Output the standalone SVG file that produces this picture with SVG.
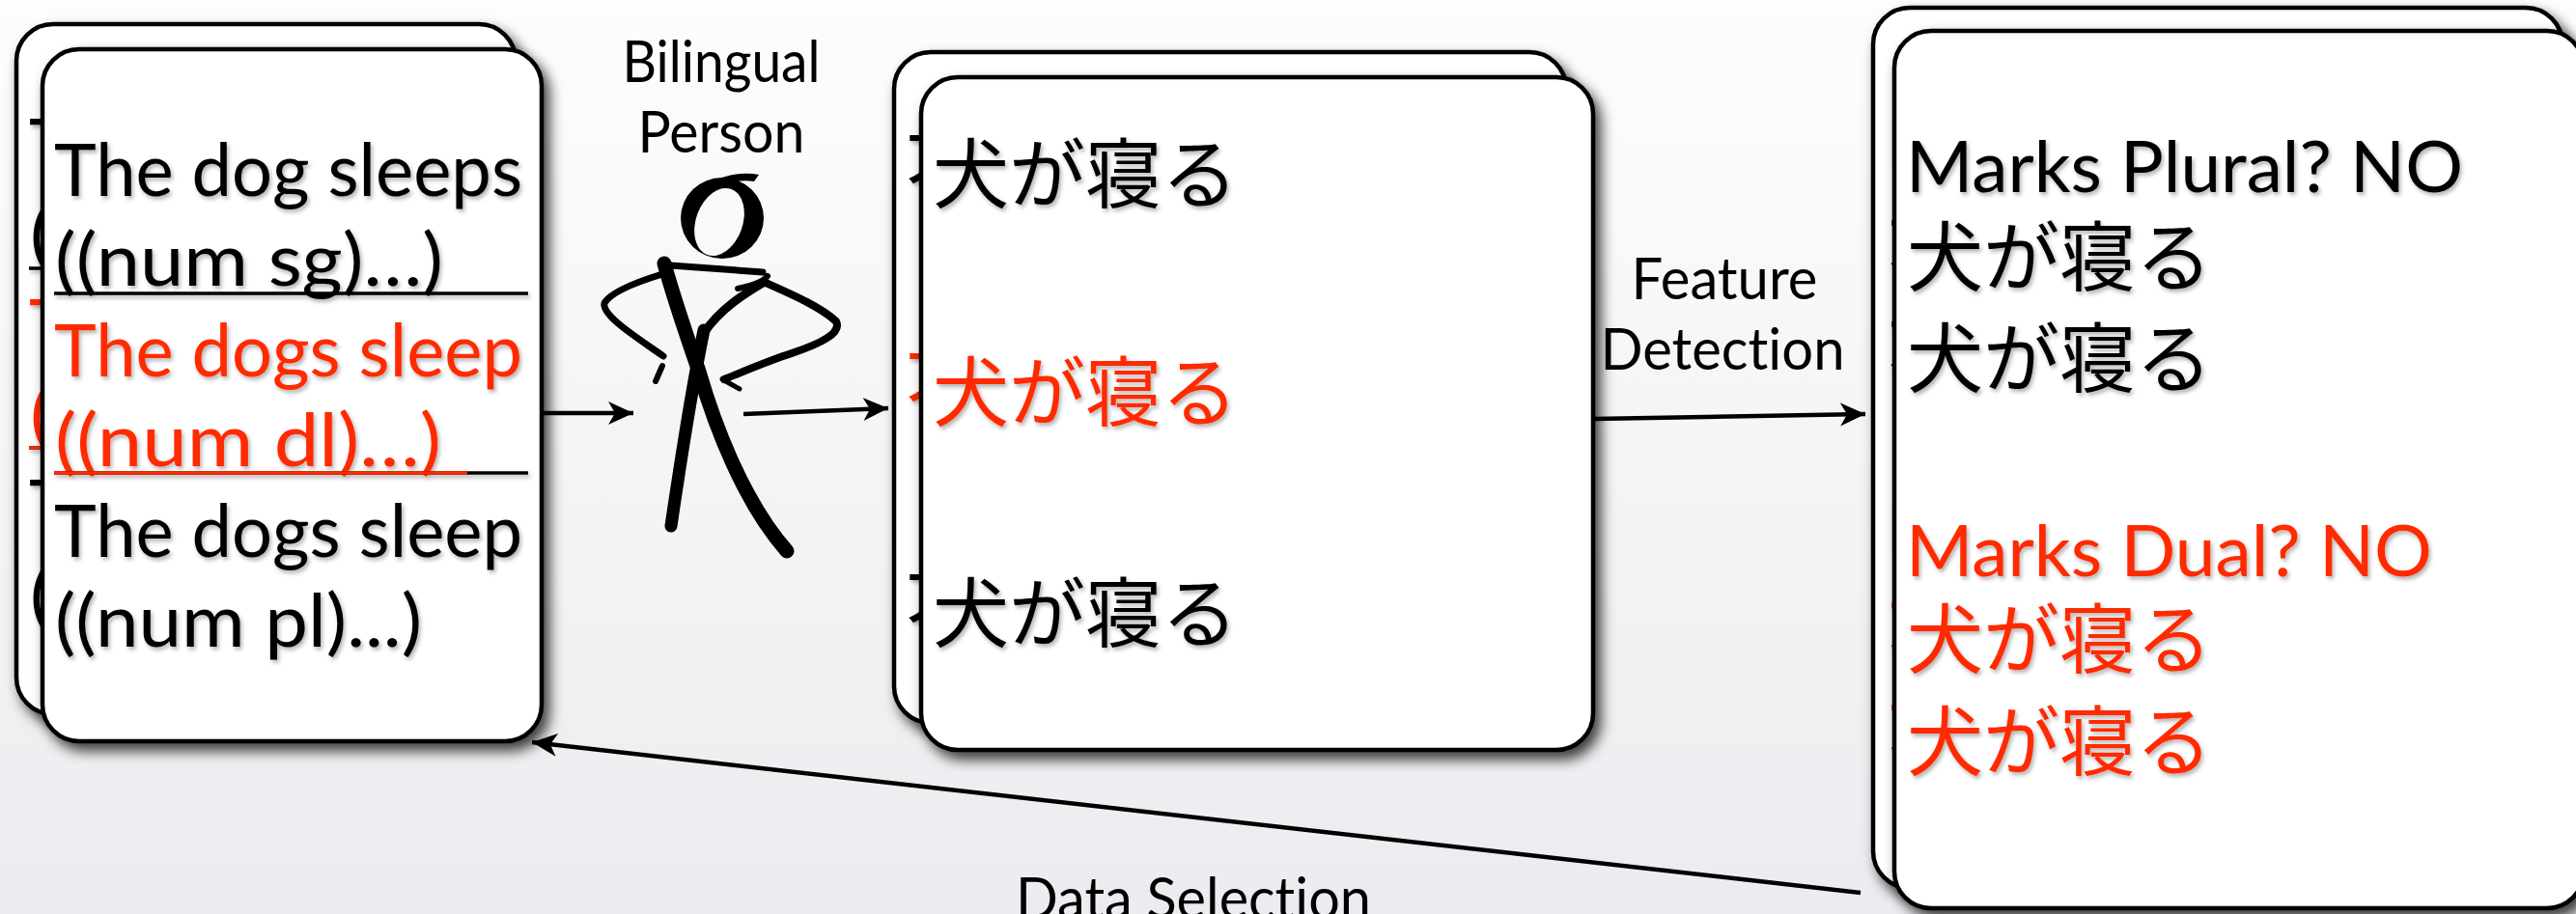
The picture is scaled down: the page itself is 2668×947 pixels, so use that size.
<svg xmlns="http://www.w3.org/2000/svg" xmlns:xlink="http://www.w3.org/1999/xlink" width="2668" height="947" viewBox="0 0 2668 947">
  <defs>
    <style>
      text { font-variant-ligatures: none; font-feature-settings: "liga" 0, "clig" 0; }
      .card { fill: #ffffff; stroke: #000000; stroke-width: 4.5; }
      .en { font-family: Lato, "Liberation Sans", sans-serif; font-size: 76px; }
      .en2 { font-family: Lato, "Liberation Sans", sans-serif; font-size: 74px; }
      .jp { font-family: "Noto Sans CJK JP", "Noto Sans CJK SC", sans-serif; font-size: 79px; }
      .lbl { font-family: Lato, "Liberation Sans", sans-serif; font-size: 60px; fill: #000000; text-anchor: middle; }
      .blk { fill: #000000; }
      .red { fill: #ff2a00; }
      .rule { stroke: #000000; stroke-width: 3.5; }
      .rule-red { stroke: #ff2a00; stroke-width: 3.5; }
      .wire { fill: none; stroke: #000000; stroke-width: 4.5; }
      .fig { fill: none; stroke: #000000; stroke-linecap: round; stroke-linejoin: round; }
    </style>
    <linearGradient id="bg" x1="0" y1="0" x2="0" y2="1">
      <stop offset="0" stop-color="#fdfdfd"/>
      <stop offset="1" stop-color="#ececf0"/>
    </linearGradient>
    <filter id="cardShadow" x="-10%" y="-10%" width="125%" height="125%">
      <feDropShadow dx="6" dy="8" stdDeviation="7" flood-color="#000000" flood-opacity="0.75"/>
    </filter>
    <filter id="textShadow" x="-5%" y="-5%" width="115%" height="115%">
      <feDropShadow dx="2" dy="3" stdDeviation="2" flood-color="#000000" flood-opacity="0.3"/>
    </filter>
    <marker id="arrow" markerUnits="userSpaceOnUse" markerWidth="28" markerHeight="26" viewBox="0 0 28 26" refX="26" refY="13" orient="auto">
      <path d="M0,1 L26,13 L0,25 L7,13 Z" fill="#000000"/>
    </marker>
  </defs>

  <!-- page background -->
  <rect x="0" y="0" width="2668" height="947" fill="url(#bg)"/>

  <!-- stack of English sentences with their feature structures -->
  <g id="sentences">
    <rect class="card" x="17" y="25" width="517" height="715" rx="38" filter="url(#cardShadow)"/>
    <use xlink:href="#sentences-lines" transform="translate(-26,-26)"/>
    <rect class="card" x="44" y="51" width="517" height="717" rx="38" filter="url(#cardShadow)"/>
    <g id="sentences-lines" filter="url(#textShadow)">
      <text class="en blk" x="56" y="203" textLength="485" lengthAdjust="spacingAndGlyphs">The dog sleeps</text>
      <text class="en blk" x="57" y="296" textLength="402" lengthAdjust="spacingAndGlyphs">((num sg)…)</text>
      <line class="rule" x1="56" y1="304" x2="547" y2="304"/>
      <text class="en red" x="56" y="390" textLength="485" lengthAdjust="spacingAndGlyphs">The dogs sleep</text>
      <text class="en red" x="57" y="483" textLength="400" lengthAdjust="spacingAndGlyphs">((num dl)…)</text>
      <line class="rule" x1="56" y1="490" x2="547" y2="490"/>
      <line class="rule-red" x1="56" y1="490" x2="484" y2="490"/>
      <text class="en blk" x="56" y="577" textLength="485" lengthAdjust="spacingAndGlyphs">The dogs sleep</text>
      <text class="en blk" x="57" y="670" textLength="380" lengthAdjust="spacingAndGlyphs">((num pl)...)</text>
    </g>
  </g>

  <!-- translator figure -->
  <g id="bilingual-person">
    <text class="lbl" x="747" y="85" textLength="205" lengthAdjust="spacingAndGlyphs">Bilingual</text>
    <text class="lbl" x="747" y="158" textLength="173" lengthAdjust="spacingAndGlyphs">Person</text>
    <path fill="#000000" fill-rule="evenodd" d="M748,184 A43 42 0 1 0 748,268 A43 42 0 1 0 748,184 Z M757.5,196 A24 36 20 1 0 732.5,264 A24 36 20 1 0 757.5,196 Z"/>
    <path fill="#000000" d="M734,190 Q760,176 786,181 L781,188 Q760,185 740,196 Z"/>
    <path class="fig" stroke-width="15" d="M688,273 C698,310 712,350 724,385 C740,440 770,520 815,571"/>
    <path class="fig" stroke-width="9" d="M792,292 C770,305 746,320 729,345"/>
    <path class="fig" stroke-width="13" d="M729,342 C717,400 706,470 695,545"/>
    <path class="fig" stroke-width="7" d="M694,275 L790,282"/>
    <path class="fig" stroke-width="7" d="M686,284 C660,292 633,302 626,314 C623,327 660,350 687,369"/>
    <path class="fig" stroke-width="6" d="M686,379 L679,395"/>
    <path class="fig" stroke-width="8" d="M793,293 C820,305 850,318 866,333 C872,345 850,356 820,366 C795,374 770,385 750,393"/>
    <path class="fig" stroke-width="5" d="M767,387 L748,393 L766,403"/>
    <path class="fig" stroke-width="6" d="M764,299 C780,296 790,292 795,286"/>
  </g>

  <!-- stack of Japanese translations -->
  <g id="translations">
    <rect class="card" x="926" y="54" width="696" height="695" rx="38" filter="url(#cardShadow)"/>
    <use xlink:href="#translations-lines" transform="translate(-28,-26)"/>
    <rect class="card" x="954" y="80" width="696" height="697" rx="38" filter="url(#cardShadow)"/>
    <g id="translations-lines" filter="url(#textShadow)">
      <text class="jp blk" x="966" y="210">犬が寝る</text>
      <text class="jp red" x="966" y="436">犬が寝る</text>
      <text class="jp blk" x="966" y="665">犬が寝る</text>
    </g>
  </g>

  <!-- detected features per language -->
  <g id="features">
    <rect class="card" x="1940" y="8" width="714" height="912" rx="38" filter="url(#cardShadow)"/>
    <use xlink:href="#features-lines" transform="translate(-20,-24)"/>
    <rect class="card" x="1962" y="32" width="714" height="909" rx="38" filter="url(#cardShadow)"/>
    <g id="features-lines" filter="url(#textShadow)">
      <text class="en2 blk" x="1974" y="199" textLength="577" lengthAdjust="spacingAndGlyphs">Marks Plural? NO</text>
      <text class="jp blk" x="1975" y="296">犬が寝る</text>
      <text class="jp blk" x="1975" y="401">犬が寝る</text>
      <text class="en2 red" x="1974" y="597" textLength="545" lengthAdjust="spacingAndGlyphs">Marks Dual? NO</text>
      <text class="jp red" x="1975" y="692">犬が寝る</text>
      <text class="jp red" x="1975" y="798">犬が寝る</text>
    </g>
  </g>

  <!-- connectors -->
  <g id="connectors">
    <path class="wire" d="M561,428 L656,428" marker-end="url(#arrow)"/>
    <path class="wire" d="M770,429 L920,423" marker-end="url(#arrow)"/>
    <path class="wire" d="M1652,434 L1932,429" marker-end="url(#arrow)"/>
    <path class="wire" d="M1927,925 L551,769" marker-end="url(#arrow)"/>
    <text class="lbl" x="1786" y="310" textLength="193" lengthAdjust="spacingAndGlyphs">Feature</text>
    <text class="lbl" x="1784" y="383" textLength="253" lengthAdjust="spacingAndGlyphs">Detection</text>
    <text class="lbl" x="1236" y="952" textLength="368" lengthAdjust="spacingAndGlyphs">Data Selection</text>
  </g>
</svg>
